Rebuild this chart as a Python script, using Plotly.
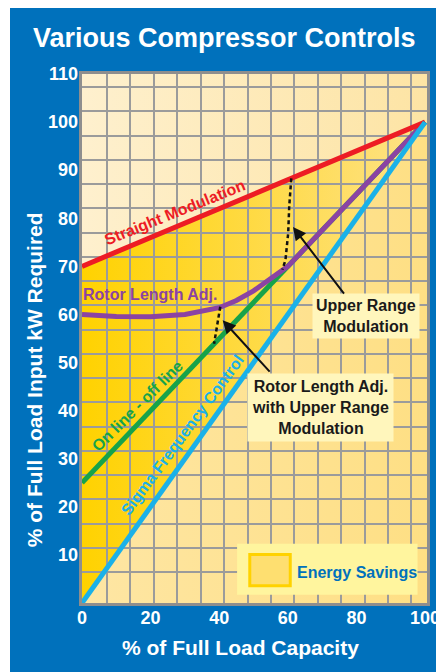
import plotly.graph_objects as go

# ---------------- data ----------------
x_tick_vals = [0, 20, 40, 60, 80, 100]
x_tick_text = ["0", "20", "40", "60", "80", "100"]
y_tick_vals = [10, 20, 30, 40, 50, 60, 70, 80, 90, 100, 110]
y_tick_text = ["10", "20", "30", "40", "50", "60", "70", "80", "90", "100", "110"]

straight_x = [0, 100]
straight_y = [70, 100]

online_x = [0, 100]
online_y = [25, 100]

sigma_x = [0, 100]
sigma_y = [0, 100]

rotor_x = [0, 10, 20, 30, 40, 45, 50, 55, 60, 100]
rotor_y = [60, 59.6, 59.5, 60.0, 61.4, 62.9, 64.9, 67.3, 70.0, 100]

upper_dash_x = [61.0, 60.4, 60.1, 59.3, 58.4]
upper_dash_y = [88.3, 82.5, 76.9, 71.3, 69.3]

rotor_dash_x = [40.3, 39.4, 38.5]
rotor_dash_y = [61.6, 57.7, 53.9]

# ---------------- style ----------------
X_MAX = 100.56
Y_MAX = 110
FONT = "Liberation Sans, Arial, Helvetica, sans-serif"
BLUE = "#0071BC"
GRID = "#9B9B9B"
FRAME = "#8E8E8E"

# decorative grid (independent of the labelled ticks)
grid_x = [7.3 + 6.826 * k for k in range(14)]
grid_y = [107.28 - 5.042 * k for k in range(21)]

fig = go.Figure()

# ---- subplot 1: background fills ----
fig.add_trace(go.Scatter(
    x=[0, X_MAX, X_MAX, 0], y=[0, 0, Y_MAX, Y_MAX], fill="toself", mode="none",
    fillgradient=dict(type="horizontal", colorscale=[[0, "#FEF0CE"], [1, "#FDE4A4"]]),
    hoverinfo="skip", showlegend=False))

fig.add_trace(go.Scatter(
    x=sigma_x + [X_MAX, X_MAX], y=sigma_y + [sigma_y[-1], 0], fill="toself", mode="none",
    fillgradient=dict(type="horizontal", colorscale=[[0, "#FEE6A4"], [1, "#FEDF84"]]),
    hoverinfo="skip", showlegend=False))

fig.add_trace(go.Scatter(
    x=straight_x + sigma_x[::-1], y=straight_y + sigma_y[::-1], fill="toself", mode="none",
    fillgradient=dict(type="horizontal", colorscale=[[0, "#FFD200"], [1, "#FEE288"]]),
    hoverinfo="skip", showlegend=False))

# ---- subplot 2: grid + lines ----
def line(x, y, color, width=5, dash=None):
    fig.add_trace(go.Scatter(x=x, y=y, mode="lines", xaxis="x2", yaxis="y2",
                             line=dict(color=color, width=width, dash=dash),
                             hoverinfo="skip", showlegend=False))

line(online_x, online_y, "#17A34A")
line(rotor_x, rotor_y, "#8B43A3")
line(straight_x, straight_y, "#ED1C24")
line(sigma_x, sigma_y, "#1BB1E8")
line(upper_dash_x, upper_dash_y, "#111111", width=2.5, dash="4px,3px")
line(rotor_dash_x, rotor_dash_y, "#111111", width=2.5, dash="4px,3px")

ann = []

def label(text, x, y, color, angle=0, size=16, **kw):
    d = dict(text=text, x=x, y=y, xref="x2", yref="y2", showarrow=False,
             textangle=angle, font=dict(family=FONT, size=size, color=color, weight="bold"))
    d.update(kw)
    ann.append(d)

label("Straight Modulation", 27.0, 81.1, "#ED1C24", angle=-22)
label("Rotor Length Adj.", 20.1, 64.2, "#8B43A3")
label("On line - off line", 16.3, 41.0, "#17A34A", angle=-45)
label("Sigma Frequency Control", 29.4, 35.0, "#1BB1E8", angle=-53.5)

label("Upper Range<br>Modulation", 82.9, 59.7, "#1A1A1A", size=16,
      bgcolor="#FFF6BC", borderpad=3)
label("Rotor Length Adj.<br>with Upper Range<br>Modulation", 69.4, 40.6, "#1A1A1A", size=16,
      bgcolor="#FFF6BC", borderpad=4)

# arrows
for (hx, hy, tx, ty) in [(61.5, 78.2, 76.7, 64.0), (41.0, 58.8, 55.1, 47.8)]:
    ann.append(dict(x=hx, y=hy, ax=tx, ay=ty, xref="x2", yref="y2", axref="x2", ayref="y2",
                    text="", showarrow=True, arrowhead=2, arrowsize=1.3, arrowwidth=2,
                    arrowcolor="#111111"))

# legend text
label("Energy Savings", 62.1, 6.4, BLUE, xanchor="left")

# titles
ann.append(dict(text="Various Compressor Controls", x=0.4134, y=1.068, xref="paper", yref="paper",
                showarrow=False, xanchor="center", yanchor="middle",
                font=dict(family=FONT, size=27, color="white", weight="bold")))
ann.append(dict(text="% of Full Load Capacity", x=0.4595, y=-0.0832, xref="paper", yref="paper",
                showarrow=False, xanchor="center", yanchor="middle",
                font=dict(family=FONT, size=21, color="white", weight="bold")))
ann.append(dict(text="% of Full Load Input kW Required", x=-0.1355, y=0.4216, xref="paper",
                yref="paper", showarrow=False, xanchor="center", yanchor="middle", textangle=-90,
                font=dict(family=FONT, size=21, color="white", weight="bold")))

shapes = [
    # thin white strip at the left edge of the panel
    dict(type="rect", xref="paper", yref="paper", xsizemode="pixel", xanchor=0,
         x0=-76, x1=-72, y0=-0.2, y1=1.2, fillcolor="white", line=dict(width=0), layer="above"),
    # legend box
    dict(type="rect", xref="x2", yref="y2", x0=45.2, x1=97.8, y0=1.7, y1=12.3,
         fillcolor="#FFF59E", line=dict(width=0), layer="above"),
    dict(type="rect", xref="x2", yref="y2", x0=48.9, x1=60.7, y0=3.6, y1=10.1,
         fillcolor="#FEDF70", line=dict(color="#FFD200", width=3), layer="above"),
]

tickfont = dict(family=FONT, size=18, color="white", weight="bold")

fig.update_layout(
    width=444, height=672, autosize=False,
    margin=dict(l=74, r=12, t=66, b=77),
    paper_bgcolor=BLUE,
    plot_bgcolor="rgba(0,0,0,0)",
    showlegend=False,
    xaxis=dict(domain=[0, 1], range=[0, X_MAX], tickvals=x_tick_vals, ticktext=x_tick_text,
               showgrid=False, zeroline=False, showline=False, ticks="", tickfont=tickfont,
               ticklabelstandoff=2, fixedrange=True),
    yaxis=dict(domain=[0, 1], range=[0, Y_MAX], tickvals=y_tick_vals, ticktext=y_tick_text,
               showgrid=False, zeroline=False, showline=False, ticks="", tickfont=tickfont,
               ticklabelstandoff=3, fixedrange=True),
    xaxis2=dict(domain=[0, 1], range=[0, X_MAX], anchor="y2", tickvals=grid_x,
                showticklabels=False, showgrid=True, gridcolor=GRID, gridwidth=2,
                zeroline=False, showline=True, mirror=True, linecolor=FRAME, linewidth=3,
                ticks="", fixedrange=True),
    yaxis2=dict(domain=[0, 1], range=[0, Y_MAX], anchor="x2", tickvals=grid_y,
                showticklabels=False, showgrid=True, gridcolor=GRID, gridwidth=2,
                zeroline=False, showline=True, mirror=True, linecolor=FRAME, linewidth=3,
                ticks="", fixedrange=True),
    annotations=ann,
    shapes=shapes,
)

fig.write_html("out.html", config={"responsive": False, "displayModeBar": False})
